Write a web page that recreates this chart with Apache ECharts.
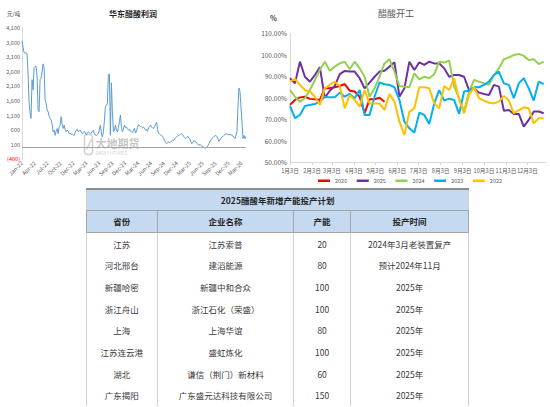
<!DOCTYPE html>
<html><head><meta charset="utf-8">
<script src="https://cdn.jsdelivr.net/npm/echarts@6/dist/echarts.min.js"></script>
<style>
html,body{margin:0;padding:0;background:#fff;}
#wrap{position:relative;width:550px;height:407px;overflow:hidden;}
#chart{position:absolute;left:0;top:0;width:550px;height:407px;}
#tbl{position:absolute;left:86px;top:188px;width:383px;border-collapse:collapse;table-layout:fixed;
 font-family:"Noto Sans CJK SC","Noto Sans",sans-serif;font-size:8.5px;color:#3a3a3a;}
#tbl td,#tbl th{padding:0;text-align:center;vertical-align:middle;border-left:1px solid #d0d0d0;border-right:1px solid #d0d0d0;line-height:1;}
#tbl tr.body td{height:21.67px;}
#tbl tr.title td{background:#C5D9F1;font-weight:bold;color:#262626;border-top:2px solid #8c8c8c;border-bottom:1px solid #a6a6a6;height:20px;}
#tbl tr.head th{background:#C5D9F1;font-weight:bold;color:#262626;border:1px solid #a6a6a6;height:21px;}
</style></head>
<body><div id="wrap"><div id="chart"></div><table id="tbl"></table></div>
<script>
// ---------- Left chart: 华东醋酸利润 (weekly, from 2022-01-04) ----------
const profitStart = Date.UTC(2022, 0, 4);
const profit = [
3660,3450,3260,3240,3250,3220,2600,1580,1200,1000,
2330,1985,2740,2780,2790,2450,1290,1230,2330,2390,
2600,2870,2740,1640,1520,1300,1230,1080,1000,945,
800,540,600,420,560,655,480,700,770,1060,
800,655,770,600,540,600,560,480,500,445,
460,430,420,520,600,630,540,580,600,540,
480,520,560,500,445,500,540,510,480,500,
560,600,480,430,420,450,480,620,770,500,
365,540,900,1400,1450,1520,2500,2530,420,2220,
1230,540,600,770,600,540,700,885,1120,700,
540,620,770,680,710,650,600,630,560,540,
515,600,660,500,560,700,795,760,720,710,
680,710,650,600,630,560,680,720,770,700,
680,655,720,800,865,620,480,460,430,420,
380,320,250,180,135,160,200,170,190,230,
260,250,300,340,380,400,420,440,460,480,
450,380,340,310,350,390,330,300,220,135,
180,240,215,200,150,110,76,120,80,52,
40,10,-10,-17,10,60,135,200,260,310,
340,380,400,420,380,300,215,260,320,365,
380,420,450,480,470,450,445,460,430,420,
400,350,310,420,540,1400,2040,1925,1400,885,
310,420,310,380
];
const monthAbbr = ['Jan','Feb','Mar','Apr','May','Jun','Jul','Aug','Sep','Oct','Nov','Dec'];

// ---------- Right chart: 醋酸开工 (weekly, from 1月3日) ----------
const monthTickDays = [0,31,59,90,120,151,181,212,243,273,304,334];
const monthTickLabels = ['1月3日','2月3日','3月3日','4月3日','5月3日','6月3日','7月3日','8月3日','9月3日','10月3日','11月3日','12月3日'];
const yearNames = ['2026','2025','2024','2023','2022'];
const yearColors = ['#FF0000','#7030A0','#92D050','#00B0F0','#FFC000'];
const op2026 = [76.7,79,80.2,80.5,79.5,79.3,79,84.4,84.4,84.9,85.5,86.4,83.3,82.9,80.5,72.8,79.3,79.3,80,78.2];
const op2025 = [89.1,86.7,96.8,89.8,87.5,90.6,94.2,80,83.3,85.5,91,92.5,92.2,92.2,89.1,84.4,87.1,89.8,92.2,92.6,
  94.5,96.5,80.5,84.4,96.8,92.9,96.5,95.3,96.8,96,96,93.7,89.8,90.6,90.6,89.8,83.6,84.4,82.4,81.8,
  81.3,86,85.2,74,74.3,72.5,72.5,66.6,69.7,73.6,73.6,72.8];
const op2024 = [83.6,80.5,78.2,79.8,83.6,88.3,93,96.8,92.6,94.5,96,96.8,93.3,96.8,93.7,89.8,80.5,84.4,89.8,96,
  97.9,92.2,85.5,85.2,84.9,91.4,88.6,89.8,89.1,91,96.8,96.4,97.3,85.2,79.8,73.6,82.9,88.3,87.5,86.7,
  86,90.6,93.7,97.9,98.8,99.9,100.4,99.5,97.6,97.9,95.7,96.8];
const op2023 = [76.2,70.5,72,76.2,76.7,77.1,78.2,80.5,80.2,80.2,82.4,80.5,81.8,79.8,83.6,72,72,80.5,87.1,86.3,
  86,84.9,79,68.9,65.8,63.8,73.1,72,67.8,77.4,83.6,78.7,79.6,79,72.5,82.9,83.3,84.9,84.9,86,
  87.5,90.6,92.2,86.7,86,79.8,86.7,89.1,84.4,78.7,87.5,86.4];
const op2022 = [87.5,88.8,86,83.6,82.9,80.5,76.7,84.4,86,87.5,85.5,75.1,81.3,79,75.9,83.6,77.4,77.4,77.4,74.3,
  81.8,78.2,68.9,62.7,73.6,75.1,84.9,84.9,84.4,77.4,75.1,85.5,83.6,89.1,79,72.8,81.3,84.9,79.8,78.7,
  77.7,77.4,78.2,80.9,78.7,72.8,74.3,75.6,75.1,68.1,70.5,70.5];
const yearData = [op2026, op2025, op2024, op2023, op2022];

// ---------- Table ----------
const tableTitle = '2025醋酸年新增产能投产计划';
const tableHeaders = ['省份','企业名称','产能','投产时间'];
const provinces = ['江苏','河北邢台','新疆哈密','浙江舟山','上海','江苏连云港','湖北','广东揭阳'];
const companies = ['江苏索普','建滔能源','新疆中和合众','浙江石化（荣盛）','上海华谊','盛虹炼化','谦信（荆门）新材料','广东盛元达科技有限公司'];
const capacities = [20,80,100,100,80,100,60,150];
const startTimes = ['2024年3月老装置复产','预计2024年11月','2025年','2025年','2025年','2025年','2025年','2025年'];

(function buildTable(){
  const t = document.getElementById('tbl');
  let h = '<colgroup><col style="width:70.7px"><col style="width:136.6px"><col style="width:56.7px"><col style="width:118.3px"></colgroup>';
  h += '<tr class="title"><td colspan="4">' + tableTitle + '</td></tr>';
  h += '<tr class="head">' + tableHeaders.map(x => '<th>' + x + '</th>').join('') + '</tr>';
  for (let i = 0; i < provinces.length; i++) {
    h += '<tr class="body"><td>' + provinces[i] + '</td><td>' + companies[i] + '</td><td>' + capacities[i] + '</td><td>' + startTimes[i] + '</td></tr>';
  }
  t.innerHTML = h;
})();

const chart = echarts.init(document.getElementById('chart'), null, {renderer: 'svg'});
const FONT = '"Noto Sans CJK SC","Noto Sans",sans-serif';
const axisGray = '#d9d9d9';

const rightSeries = yearNames.map((name, k) => ({
  name: name, type: 'line', xAxisIndex: 1, yAxisIndex: 1,
  data: yearData[k].map((v, i) => [i * 7, v]),
  showSymbol: false, symbol: 'none',
  lineStyle: {width: 2, color: yearColors[k]}, itemStyle: {color: yearColors[k]},
  z: 3
}));

chart.setOption({
  animation: false,
  textStyle: {fontFamily: FONT},
  grid: [
    {left: 22, top: 28, width: 224, height: 131.3},
    {left: 290, top: 33.3, width: 255.8, height: 129}
  ],
  xAxis: [
    {
      gridIndex: 0, type: 'value', min: 0, max: 1561, interval: 90,
      splitLine: {show: false}, axisTick: {show: false},
      axisLine: {show: false},
      axisLabel: {
        rotate: 45, fontSize: 5.5, color: '#595959', margin: 3, showMaxLabel: false, hideOverlap: false,
        formatter: v => { const d = new Date(profitStart + v * 86400000); return monthAbbr[d.getUTCMonth()] + '-' + String(d.getUTCFullYear()).slice(2); }
      }
    },
    {
      gridIndex: 1, type: 'value', min: 0, max: 360,
      splitLine: {show: false},
      axisLine: {show: true, lineStyle: {color: axisGray}},
      axisTick: {show: true, length: 3, lineStyle: {color: axisGray}, customValues: monthTickDays},
      axisLabel: {
        fontSize: 5.7, color: '#595959', margin: 5, customValues: monthTickDays, hideOverlap: false,
        showMinLabel: true, showMaxLabel: true,
        formatter: v => monthTickLabels[monthTickDays.indexOf(v)]
      }
    }
  ],
  yAxis: [
    {
      gridIndex: 0, type: 'value', min: -400, max: 4100, interval: 500,
      splitLine: {show: false}, axisTick: {show: false},
      axisLine: {show: true, lineStyle: {color: axisGray}},
      axisLabel: {
        fontSize: 5.5, color: '#595959', margin: 2, hideOverlap: false, showMinLabel: true, showMaxLabel: true,
        formatter: v => v < 0 ? '{neg|(' + Math.abs(v).toLocaleString('en-US') + ')}' : v.toLocaleString('en-US'),
        rich: {neg: {color: '#FF0000', fontSize: 5.5}}
      }
    },
    {
      gridIndex: 1, type: 'value', min: 50, max: 110, interval: 10,
      splitLine: {show: false}, axisTick: {show: false},
      axisLine: {show: true, lineStyle: {color: axisGray}},
      axisLabel: {fontSize: 6.5, color: '#595959', margin: 3, showMinLabel: true, showMaxLabel: true, formatter: v => v.toFixed(2) + '%'}
    }
  ],
  legend: {
    data: yearNames, left: 318, top: 178, padding: 0, icon: 'rect', itemWidth: 12, itemHeight: 2.5, itemGap: 9.5,
    textStyle: {fontSize: 5.5, color: '#595959'}, selectedMode: false
  },
  graphic: [
    {type: 'text', left: 109, top: 9, style: {text: '华东醋酸利润', fill: '#262626', font: 'bold 8px ' + FONT}},
    {type: 'text', left: 7, top: 11, style: {text: '元/吨', fill: '#404040', font: '5.5px ' + FONT}},
    {type: 'text', left: 378, top: 9, style: {text: '醋酸开工', fill: '#595959', font: '9px ' + FONT}},
    {type: 'text', left: 270, top: 14, style: {text: '%', fill: '#404040', font: 'bold 7px ' + FONT}},
    {type: 'group', left: 82, top: 132, silent: true, z: 100, children: [
      {type: 'rect', shape: {x: 0, y: 1, width: 8, height: 20, r: 3}, style: {fill: 'none', stroke: 'rgba(170,170,170,0.55)', lineWidth: 1.5}},
      {type: 'line', shape: {x1: 2, y1: 16, x2: 7, y2: 6}, style: {stroke: 'rgba(200,170,110,0.55)', lineWidth: 1.5}},
      {type: 'text', x: 11, y: 4, style: {text: '大地期货', fill: 'rgba(160,160,160,0.6)', font: 'bold 11px ' + FONT}},
      {type: 'text', x: 11, y: 17, style: {text: 'DADI FUTURES', fill: 'rgba(160,160,160,0.6)', font: '4.6px ' + FONT}}
    ]}
  ],
  series: [
    {
      name: 'profit', type: 'line', xAxisIndex: 0, yAxisIndex: 0,
      data: profit.map((v, i) => [i * 7, v]),
      showSymbol: false, symbol: 'none',
      lineStyle: {width: 1, color: '#5B9BD5'},
      markLine: {silent: true, symbol: ['none','none'], label: {show: false},
        lineStyle: {color: '#a6a6a6', width: 1, type: 'solid'}, data: [{yAxis: 0}]}
    }
  ].concat(rightSeries)
});
</script></body></html>
